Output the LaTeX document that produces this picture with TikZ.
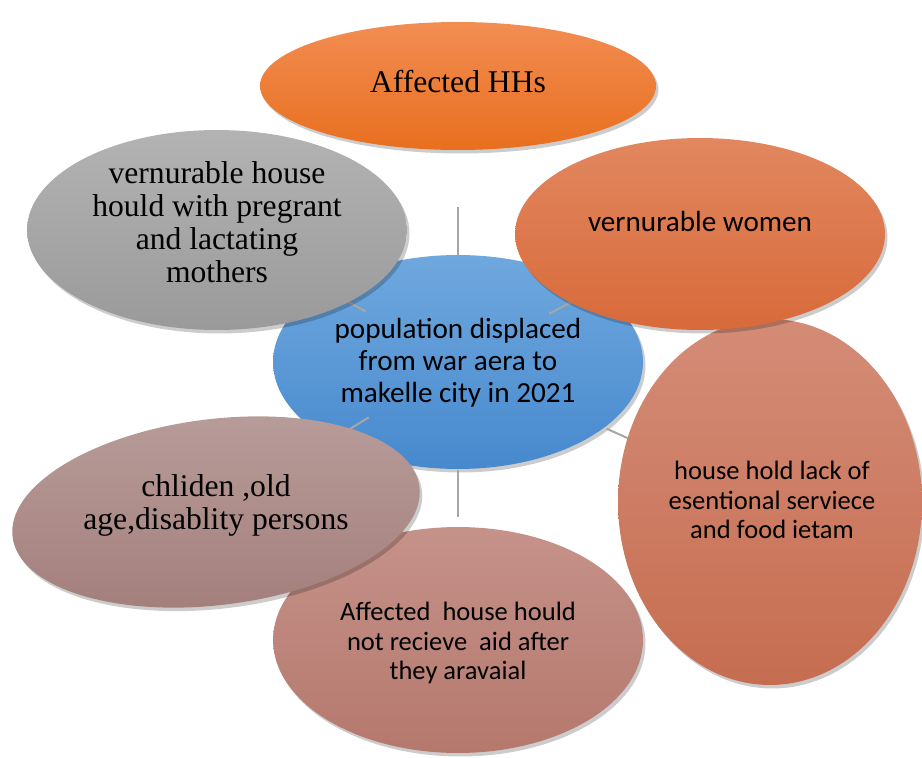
\documentclass[tikz,border=0pt]{standalone}
\usepackage{fontspec}
\setmainfont{Liberation Serif}
\newfontfamily\calibri{Carlito}
\usepackage{xcolor}
\usepackage{tikz}
\usetikzlibrary{shapes.geometric}
\usetikzlibrary{shadows}
\usetikzlibrary{backgrounds}

\definecolor{hhsTop}{HTML}{F28D52}
\definecolor{hhsBot}{HTML}{E86F1F}
\definecolor{womTop}{HTML}{E2875F}
\definecolor{womBot}{HTML}{D86A3A}
\definecolor{lackTop}{HTML}{D48C77}
\definecolor{lackBot}{HTML}{C66D50}
\definecolor{aidTop}{HTML}{C5928A}
\definecolor{aidBot}{HTML}{B5786D}
\definecolor{kidsTop}{HTML}{B89D9A}
\definecolor{kidsBot}{HTML}{A37E7B}
\definecolor{mothTop}{HTML}{B3B3B3}
\definecolor{mothBot}{HTML}{9A9A9A}
\definecolor{hubTop}{HTML}{6FA8DE}
\definecolor{hubBot}{HTML}{4789CE}
\definecolor{spokegray}{HTML}{A6A6A6}

\tikzset{
  bubble/.style={ellipse, inner sep=0pt,
    drop shadow={shadow xshift=0.05cm, shadow yshift=-0.07cm, opacity=0.2, fill=black}},
  spoke/.style={draw=spokegray, line width=0.04cm},
  serif/.style={align=center, font=\fontsize{18}{18.8}\selectfont},
  sans/.style={align=center, font=\calibri\fontsize{16.6}{18.2}\selectfont},
  sanssmall/.style={align=center, font=\calibri\fontsize{15.1}{16.6}\selectfont},
}

\begin{document}
\begin{tikzpicture}[x=0.02cm, y=-0.02cm]
        \useasboundingbox (0,0) rectangle (922,757);
        % outer bubbles, back to front
        \node[bubble, minimum width=6.08cm, minimum height=7.32cm, top color=lackTop, bottom color=lackBot] (lack) at (770,502) {};
        \node[sanssmall] (lack-t) at (772,500) {house hold lack of\\esentional serviece\\and food ietam};
        \node[bubble, minimum width=7.4cm, minimum height=4.52cm, top color=aidTop, bottom color=aidBot] (aid) at (458,640) {};
        \node[sanssmall] (aid-t) at (458,643) {Affected~ house hould\\not recieve~ aid after\\they aravaial};
        \node[bubble, rotate=7, minimum width=8.2cm, minimum height=3.72cm, top color=kidsTop, bottom color=kidsBot] (kids) at (216,512) {};
        \node[serif] (kids-t) at (216,505) {chliden ,old\\age,disablity persons};
        \node[bubble, minimum width=7.6cm, minimum height=4.0cm, top color=mothTop, bottom color=mothBot] (moth) at (217,230) {};
        \node[serif] (moth-t) at (217,222) {vernurable house\\hould with pregrant\\and lactating\\mothers};
        \node[bubble, minimum width=7.4cm, minimum height=3.84cm, top color=womTop, bottom color=womBot] (women) at (700,234) {};
        \node[sans] (women-t) at (700,221) {vernurable women};
        \node[bubble, minimum width=7.92cm, minimum height=2.56cm, top color=hhsTop, bottom color=hhsBot] (hhs) at (458,86) {};
        \node[serif] (hhs-t) at (458,82) {Affected HHs};

        % centre bubble and spokes go underneath
        \begin{pgfonlayer}{background}
        \node[bubble, minimum width=7.4cm, minimum height=4.28cm, top color=hubTop, bottom color=hubBot] (hub) at (458,362) {};
        \node[sans] (hub-t) at (458,363) {population displaced\\from war aera to\\makelle city in 2021};
        \draw[spoke, shorten <=2.14cm, shorten >=2.42cm] (hub.center) -- (hhs.center);
        \draw[spoke, shorten <=2.06cm, shorten >=2.48cm] (hub.center) -- (women.center);
        \draw[spoke, shorten <=3.26cm, shorten >=2.94cm] (hub.center) -- (lack.center);
        \draw[spoke, shorten <=2.16cm, shorten >=2.46cm] (hub.center) -- (aid.center);
        \draw[spoke, shorten <=2.1cm, shorten >=2.72cm] (hub.center) -- (kids.center);
        \draw[spoke, shorten <=2.1cm, shorten >=2.5cm] (hub.center) -- (moth.center);
        \end{pgfonlayer}
    \end{tikzpicture}
\end{document}
